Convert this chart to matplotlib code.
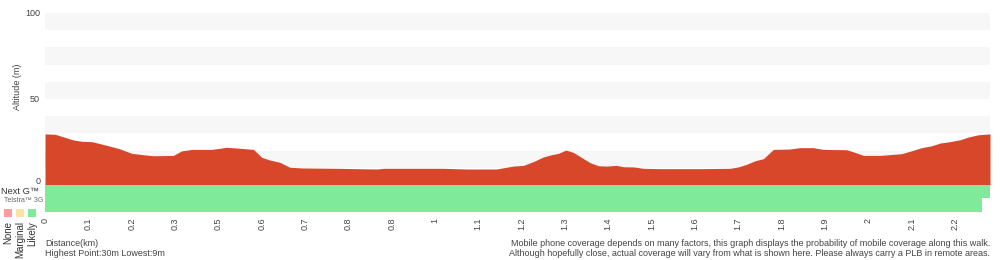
import matplotlib
matplotlib.use("Agg")
import matplotlib.pyplot as plt

plt.rcParams['font.family'] = ['Liberation Sans', 'DejaVu Sans']

# Elevation profile (x in sample-tick units, altitude in m)
pos = [0, 0.23, 0.46, 0.65, 0.85, 1.08, 1.31, 1.54, 1.73, 2.00, 2.27, 2.50, 2.96, 3.15,
       3.39, 3.85, 4.19, 4.42, 4.81, 5.00, 5.19, 5.42, 5.65, 5.96, 6.73, 7.66, 7.81, 9.19,
       9.73, 10.42, 10.65, 10.81, 11.04, 11.27, 11.50, 11.69, 11.85, 12.02, 12.19, 12.39,
       12.58, 12.77, 12.96, 13.19, 13.35, 13.58, 13.81, 14.19, 15.12, 15.81, 16.00, 16.19,
       16.39, 16.58, 16.81, 17.19, 17.42, 17.73, 17.96, 18.50, 18.69, 18.89, 19.27, 19.77,
       20.00, 20.23, 20.46, 20.66, 20.89, 21.12, 21.31, 21.54, 21.81]
alt = [29.7, 29.5, 27.7, 26.2, 25.4, 25.2, 23.8, 22.3, 21.0, 18.4, 17.6, 17.0, 17.2, 19.8,
       20.7, 20.7, 21.9, 21.5, 20.7, 16.1, 14.5, 13.2, 10.3, 9.9, 9.7, 9.3, 9.7, 9.7,
       9.3, 9.3, 10.3, 11.0, 11.4, 13.6, 16.3, 17.6, 18.4, 20.3, 19.0, 15.9,
       13.0, 11.2, 11.0, 11.4, 10.6, 10.5, 9.7, 9.5, 9.5, 9.7, 10.5, 12.0,
       14.1, 15.3, 20.7, 20.9, 21.7, 21.7, 20.7, 20.5, 19.0, 17.2, 17.2, 18.2,
       19.9, 21.7, 22.8, 24.4, 25.2, 26.3, 27.9, 29.2, 29.7]

tick_labels = ['0', '0.1', '0.2', '0.3', '0.5', '0.6', '0.7', '0.8', '0.8', '1', '1.1',
               '1.2', '1.3', '1.4', '1.5', '1.6', '1.7', '1.8', '1.9', '2', '2.1', '2.2']

# Coverage rows: (label, end position, status)
cov_rows = ['Next G™', 'Telstra™ 3G']
cov_end = [21.81, 21.62]
cov_status = ['Likely', 'Likely']

legend_names = ['None', 'Marginal', 'Likely']
legend_colors = ['#ff9d9d', '#ffe2a6', '#7eea9a']
status_color = dict(zip(legend_names, legend_colors))

highest = 30
lowest = 9

W, H = 1000, 260
fig = plt.figure(figsize=(W / 100, H / 100), dpi=100)
ax = fig.add_axes([45 / W, 1 - 212 / H, 945 / W, (212 - 13) / H])
xmax = 21.81
ax.set_xlim(0, xmax)
ymin = -15.7
ax.set_ylim(ymin, 100)

for lo in range(10, 100, 20):
    ax.axhspan(lo, lo + 10, color='#f7f7f7', lw=0, zorder=0)

ax.fill_between(pos, 0, alt, color='#d9472a', lw=0, zorder=2)

row_h = -ymin / 2
for i, (end, st) in enumerate(zip(cov_end, cov_status)):
    top = -i * row_h
    bot = top - row_h
    ax.fill_between([0, end], bot, top, color=status_color[st], lw=0, zorder=2)

for s in ax.spines.values():
    s.set_visible(False)
ax.set_yticks([])
ax.set_xticks(range(len(tick_labels)))
ax.set_xticklabels(tick_labels, rotation=90, fontsize=6.5, color='#444444', va='top')
ax.tick_params(axis='x', length=0, pad=4)

def px(x, y, s, **kw):
    fig.text(x / W, 1 - y / H, s, **kw)

px(40, 13, '100', ha='right', va='center', fontsize=6.5, color='#444444')
px(40, 99, '50', ha='right', va='center', fontsize=6.5, color='#444444')
px(41, 182, '0', ha='right', va='center', fontsize=6.5, color='#444444')
px(18, 87, 'Altitude (m)', ha='center', va='center', rotation=90, fontsize=6.5, color='#444444')

px(1, 191, cov_rows[0], ha='left', va='center', fontsize=6.7, color='#333333')
px(4, 201, cov_rows[1], ha='left', va='center', fontsize=5, color='#666666')
for i, (nm, c) in enumerate(zip(legend_names, legend_colors)):
    cx = 8 + 12 * i
    fig.patches.append(plt.Rectangle(((cx - 4) / W, 1 - 217 / H), 8 / W, 8 / H,
                                     transform=fig.transFigure, facecolor=c, edgecolor='none'))
    px(cx, 221, nm, ha='center', va='top', rotation=90, fontsize=7, color='#333333')

px(45, 243, 'Distance(km)', ha='left', va='center', fontsize=6.5, color='#444444')
px(45, 253, f'Highest Point:{highest}m Lowest:{lowest}m', ha='left', va='center',
   fontsize=6.5, color='#444444')
px(990, 243, 'Mobile phone coverage depends on many factors, this graph displays the probability of mobile coverage along this walk.',
   ha='right', va='center', fontsize=6.45, color='#444444')
px(990, 253, 'Although hopefully close, actual coverage will vary from what is shown here. Please always carry a PLB in remote areas.',
   ha='right', va='center', fontsize=6.45, color='#444444')

fig.savefig('out.png', dpi=100)
